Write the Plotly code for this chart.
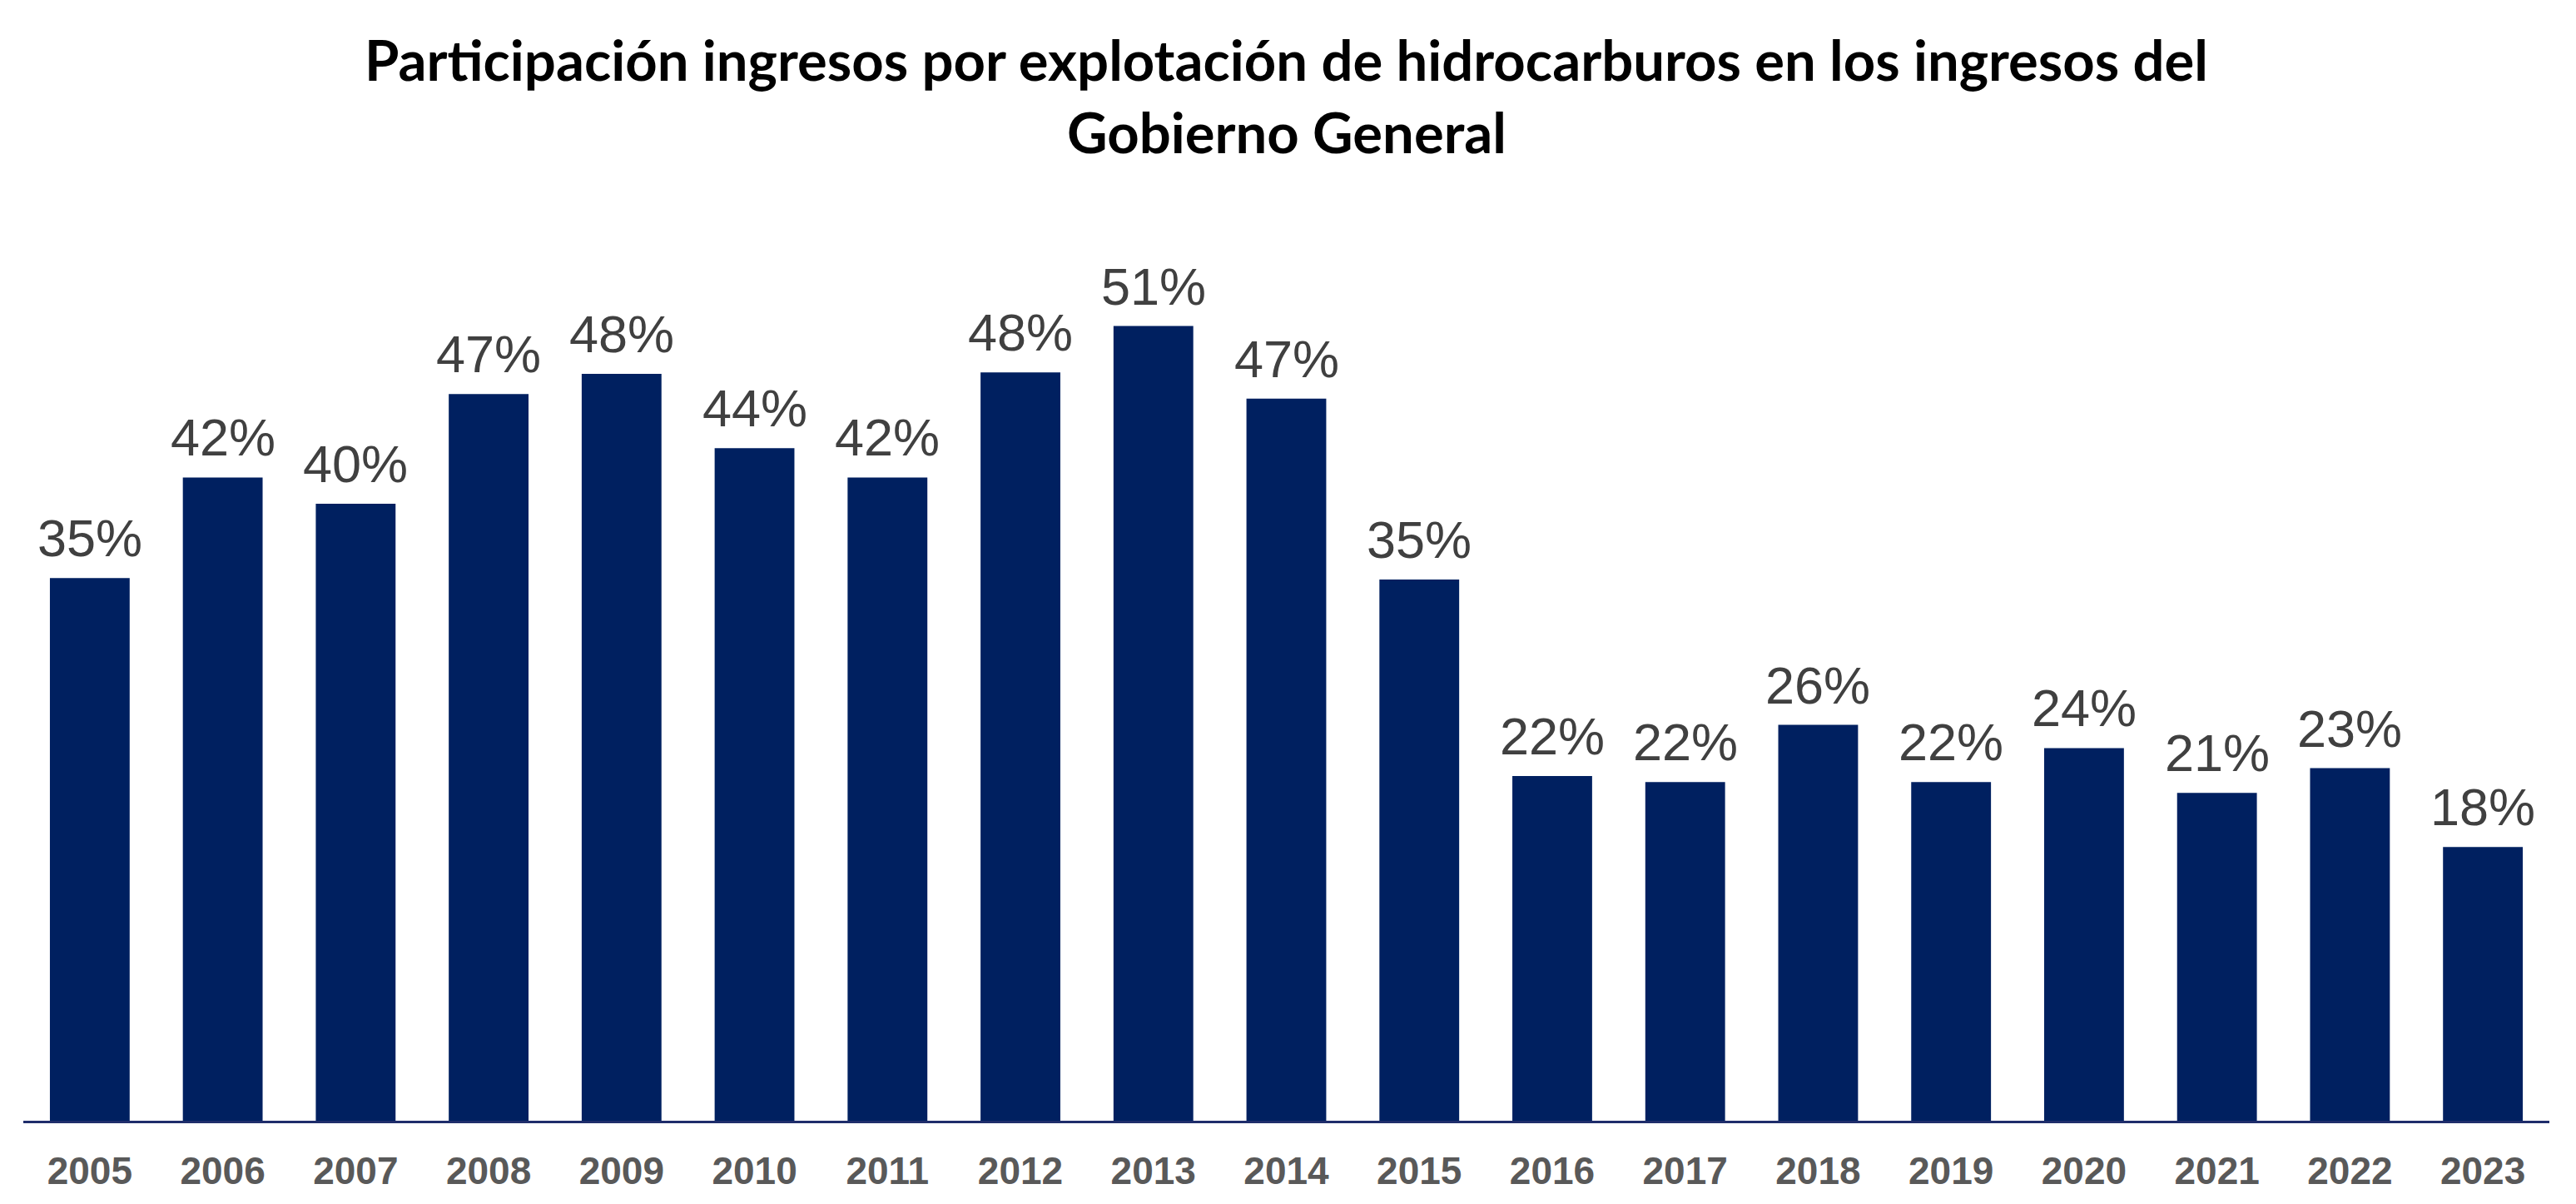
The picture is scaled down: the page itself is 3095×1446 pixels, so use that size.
import plotly.graph_objects as go

years = ["2005", "2006", "2007", "2008", "2009", "2010", "2011", "2012", "2013", "2014",
         "2015", "2016", "2017", "2018", "2019", "2020", "2021", "2022", "2023"]
share_pct = [35.1, 41.6, 39.9, 47.0, 48.3, 43.5, 41.6, 48.4, 51.4, 46.7,
             35.0, 22.3, 21.9, 25.6, 21.9, 24.1, 21.2, 22.8, 17.7]
labels = [f"{round(v)}%" for v in share_pct]

title_lines = ["Participación ingresos por explotación de hidrocarburos en los ingresos del",
               "Gobierno General"]

W, H = 3095, 1446
ml, mr, mt, mb = 28, 32, 300, 100
plot_h = H - mt - mb
px_per_pct = 18.57
ymax = plot_h / px_per_pct


def paper_y(px):
    return (H - mb - px) / plot_h


fig = go.Figure()
fig.add_trace(go.Bar(
    x=years, y=share_pct,
    marker=dict(color="#002060", line=dict(width=0)),
    hoverinfo="x+y",
))

label_font = dict(family="Liberation Sans, Arial", size=63, color="#404040")
for i, (y, t) in enumerate(zip(share_pct, labels)):
    fig.add_annotation(
        x=i, y=y, xref="x", yref="y", text=t, showarrow=False,
        xanchor="center", yanchor="bottom", yshift=11, font=label_font,
    )

title_font = dict(family="Lato, Open Sans, sans-serif", size=67, color="#000000", weight="bold")
for line, ypx in zip(title_lines, [71, 158]):
    fig.add_annotation(
        text=line, xref="paper", yref="paper", x=0.5, y=paper_y(ypx),
        xanchor="center", yanchor="middle", showarrow=False, font=title_font,
    )

fig.update_layout(
    width=W, height=H,
    margin=dict(l=ml, r=mr, t=mt, b=mb, pad=0),
    paper_bgcolor="white", plot_bgcolor="white",
    bargap=0.4,
    showlegend=False,
    xaxis=dict(
        type="category",
        categoryorder="array", categoryarray=years,
        range=[-0.5, len(years) - 0.5],
        showline=True, linecolor="#1F2D6B", linewidth=3,
        showgrid=False, zeroline=False,
        ticks="", ticklabelstandoff=18,
        tickfont=dict(family="Liberation Sans, Arial", size=46, color="#595959", weight="bold"),
    ),
    yaxis=dict(
        range=[0, ymax],
        visible=False, showgrid=False, zeroline=False,
    ),
)

fig.write_html("out.html")
